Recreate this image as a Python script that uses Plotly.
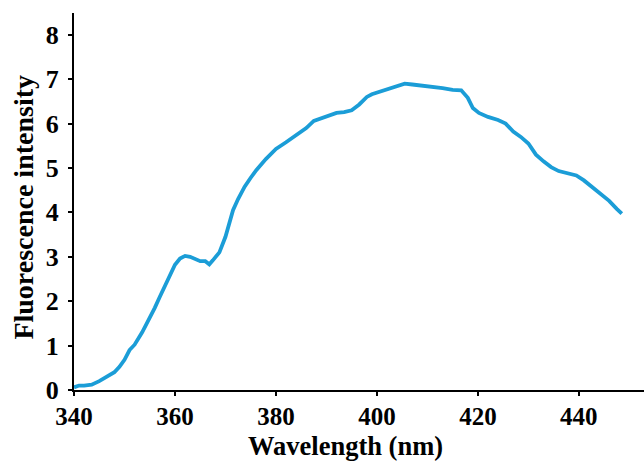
import plotly.graph_objects as go

wavelength = [340, 341, 342, 343.5, 345, 346.5, 348, 349, 350, 351, 352, 353.5, 355, 356, 357,
              358, 359, 360, 361, 362, 363, 364, 365, 366, 366.8, 367.5, 368.8, 370, 371.5,
              372.5, 373.8, 375, 376.1, 378, 380, 382, 384, 386, 387.5, 388.5, 390, 392,
              393.5, 395, 396.5, 398, 399, 400, 401.5, 402.5, 404, 405.5, 407, 409, 411, 413,
              415, 416.7, 418, 419, 420.2, 422, 424, 425.5, 427, 428.5, 430, 431.5, 433,
              434.5, 436, 438, 439.5, 441, 442.5, 444, 446, 447.5, 448.5]
intensity = [0.06, 0.1, 0.1, 0.12, 0.2, 0.3, 0.4, 0.52, 0.68, 0.9, 1.02, 1.3, 1.62, 1.85, 2.1,
             2.35, 2.6, 2.82, 2.96, 3.02, 3.0, 2.95, 2.9, 2.9, 2.83, 2.92, 3.1, 3.45, 4.05,
             4.3, 4.58, 4.78, 4.95, 5.2, 5.43, 5.58, 5.74, 5.9, 6.06, 6.1, 6.14, 6.24,
             6.26, 6.3, 6.43, 6.6, 6.66, 6.7, 6.74, 6.78, 6.85, 6.9, 6.88, 6.86, 6.84, 6.8,
             6.76, 6.75, 6.58, 6.35, 6.24, 6.15, 6.08, 6.0, 5.82, 5.7, 5.55, 5.3, 5.15,
             5.02, 4.93, 4.88, 4.83, 4.72, 4.58, 4.42, 4.26, 4.08, 3.97]

x_ticks = [340, 360, 380, 400, 420, 440]
y_ticks = [0, 1, 2, 3, 4, 5, 6, 7, 8]
x_title = "Wavelength (nm)"
y_title = "Fluorescence intensity"

FONT = "Liberation Serif"

fig = go.Figure()
fig.add_trace(go.Scatter(x=wavelength, y=intensity, mode="lines",
                         line=dict(color="#1b9dd7", width=3.8), showlegend=False))

fig.update_layout(
    width=644, height=461,
    margin=dict(l=74, r=0, t=13, b=71),
    paper_bgcolor="white", plot_bgcolor="white",
    font=dict(family=FONT, color="black"),
    xaxis=dict(range=[340, 452.9], tickvals=x_ticks, ticks="outside", ticklen=4,
               tickwidth=2, tickcolor="black", showline=True, linecolor="black",
               linewidth=2, showgrid=False, zeroline=False, ticklabelstandoff=-1,
               tickfont=dict(family=FONT, size=25, color="black", weight="bold")),
    yaxis=dict(range=[0, 8.49], tickvals=y_ticks, ticks="outside", ticklen=4,
               tickwidth=2, tickcolor="black", showline=True, linecolor="black",
               linewidth=2, showgrid=False, zeroline=False, ticklabelstandoff=4,
               tickfont=dict(family=FONT, size=26, color="black", weight="bold")),
    annotations=[
        dict(text="<b>" + x_title + "</b>", xref="paper", yref="paper", x=0.477, y=-0.1485,
             xanchor="center", yanchor="middle", showarrow=False,
             font=dict(family=FONT, size=26.5, color="black")),
        dict(text="<b>" + y_title + "</b>", xref="paper", yref="paper", x=-0.088, y=0.486,
             xanchor="center", yanchor="middle", showarrow=False, textangle=-90,
             font=dict(family=FONT, size=28, color="black")),
    ],
)

fig.write_html("out.html")
